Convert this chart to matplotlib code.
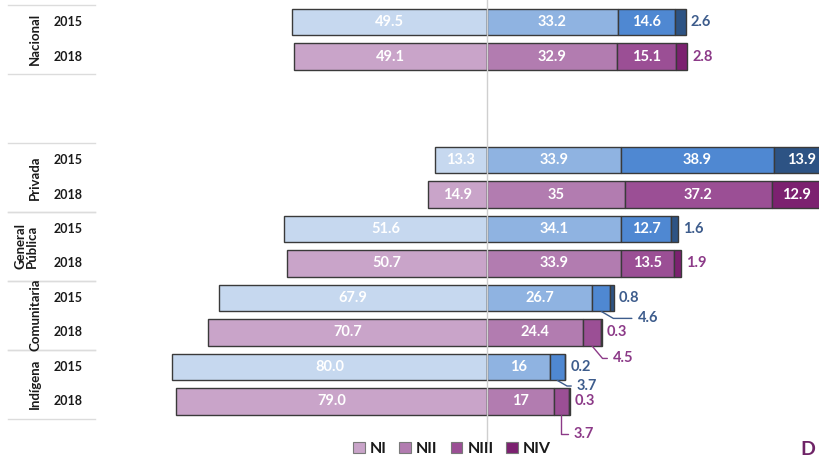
import numpy as np
import matplotlib.pyplot as plt

plt.rcParams['font.family'] = ['Lato', 'DejaVu Sans']

# Levels of achievement (percent of students) by school type and year
groups = ["Nacional", "Privada", "General\nPública", "Comunitaria", "Indígena"]
years = ["2015", "2018"]
levels = ["NI", "NII", "NIII", "NIV"]

ni_2015 = [49.5, 13.3, 51.6, 67.9, 80.0]
nii_2015 = [33.2, 33.9, 34.1, 26.7, 16]
niii_2015 = [14.6, 38.9, 12.7, 4.6, 3.7]
niv_2015 = [2.6, 13.9, 1.6, 0.8, 0.2]

ni_2018 = [49.1, 14.9, 50.7, 70.7, 79.0]
nii_2018 = [32.9, 35, 33.9, 24.4, 17]
niii_2018 = [15.1, 37.2, 13.5, 4.5, 3.7]
niv_2018 = [2.8, 12.9, 1.9, 0.3, 0.3]

# row slots: Nacional on top, then a gap, then the school types
group_rows = [0, 4, 6, 8, 10]

colors_2015 = ["#c6d8ef", "#8fb3e1", "#4f88d2", "#2d5384"]
colors_2018 = ["#c9a4c9", "#b27cb0", "#9b4f95", "#7c2170"]
txt_2015 = "#3d5c8c"
txt_2018 = "#8c3a88"
edge = "#3a3a3a"

# small NIII values get a leader line: text offset (points) and angle at the bar
leaders = {(3, 0): (26, -5, -30), (3, 1): (15, -9, -50),
           (4, 0): (14, -4, -30), (4, 1): (9, -14, 90)}

fig = plt.figure(figsize=(8.2, 4.59), dpi=100)
ax = fig.add_axes([0, 0, 1, 1])
ax.set_xlim(-123.6, 84.5)
ax.set_ylim(12.667, -0.638)
ax.axis('off')

h = 0.78
data = {0: (ni_2015, nii_2015, niii_2015, niv_2015),
        1: (ni_2018, nii_2018, niii_2018, niv_2018)}

for gi, row0 in enumerate(group_rows):
    for yi in (0, 1):
        y = row0 + yi
        ni, nii, niii, niv = (s[gi] for s in data[yi])
        cols = colors_2015 if yi == 0 else colors_2018
        tcol = txt_2015 if yi == 0 else txt_2018
        lefts = [-ni, 0, nii, nii + niii]
        widths = [ni, nii, niii, niv]
        for k in range(4):
            ax.barh(y, widths[k], left=lefts[k], height=h, color=cols[k],
                    edgecolor=edge, linewidth=1.0, zorder=2)
        # labels inside the bars
        ax.text(-ni / 2, y, f"{ni:.1f}", ha='center', va='center', color='white',
                fontsize=10.5, fontweight='bold', zorder=4)
        ax.text(nii / 2, y, f"{nii:g}", ha='center', va='center', color='white',
                fontsize=10.5, fontweight='bold', zorder=4)
        if niii >= 8:
            ax.text(nii + niii / 2, y, f"{niii:g}", ha='center', va='center',
                    color='white', fontsize=10.5, fontweight='bold', zorder=4)
        else:
            dx, dy, ang = leaders[(gi, yi)]
            ax.annotate(f"{niii:g}", xy=(nii + niii / 2, y + h / 2),
                        xytext=(dx, dy), textcoords='offset points',
                        ha='left', va='center', color=tcol, fontsize=10.5,
                        fontweight='bold', zorder=4,
                        arrowprops=dict(arrowstyle='-', color=tcol, lw=1.0,
                                        shrinkA=2, shrinkB=0, relpos=(0, 0.5),
                                        connectionstyle=f"angle,angleA=0,angleB={ang},rad=0"))
        if niv >= 8:
            ax.text(nii + niii + niv / 2, y, f"{niv:g}", ha='center', va='center',
                    color='white', fontsize=10.5, fontweight='bold', zorder=4)
        else:
            ax.annotate(f"{niv:g}", xy=(nii + niii + niv, y), xytext=(3.5, 0),
                        textcoords='offset points', ha='left', va='center',
                        color=tcol, fontsize=10.5, fontweight='bold', zorder=4)

# centre line at zero
ax.plot([0, 0], [-0.64, 12.2], color="#cfcfcf", lw=1.0, zorder=3)

# row labels on the left, like a table
for gi, row0 in enumerate(group_rows):
    ax.plot([-121.6, -99.5], [row0 - 0.5, row0 - 0.5], color="#dcdcdc", lw=1.0)
    ax.plot([-121.6, -99.5], [row0 + 1.5, row0 + 1.5], color="#dcdcdc", lw=1.0)
    gx = -117.0 if "\n" in groups[gi] else -114.7
    ax.text(gx, row0 + 0.5, groups[gi], rotation=90, ha='center', va='center',
            fontsize=9.5, fontweight='bold', color="#1a1a1a", linespacing=1.0)
    for yi in (0, 1):
        ax.text(-106.3, row0 + yi, years[yi], ha='center', va='center',
                fontsize=9, fontweight='bold', color="#1a1a1a")

handles = [plt.Rectangle((0, 0), 1, 1, facecolor=c, edgecolor="#7a7a7a", lw=0.8)
           for c in colors_2018]
fig.legend(handles, levels, loc='center', bbox_to_anchor=(452 / 820, 1 - 449 / 459),
           ncol=4, frameon=False, handlelength=0.75, handleheight=0.75,
           handletextpad=0.3, columnspacing=0.8,
           prop={'size': 11.5, 'weight': 'bold'}, labelcolor="#1a1a1a")

fig.text(800 / 820, 0.002, "D", ha='left', va='bottom', fontsize=14,
         fontweight='bold', color="#6f2467")

fig.savefig("out.png", dpi=100)
